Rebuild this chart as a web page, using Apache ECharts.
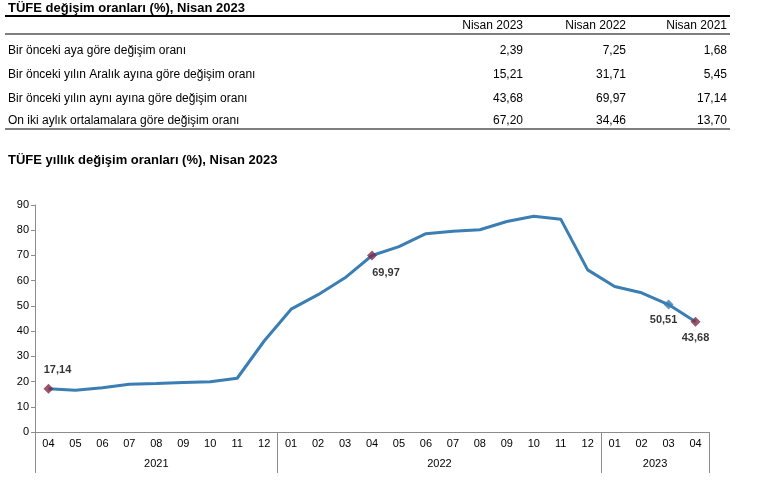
<!DOCTYPE html>
<html><head><meta charset="utf-8">
<script src="https://cdn.jsdelivr.net/npm/echarts@6/dist/echarts.min.js"></script>
<style>html,body{margin:0;padding:0;background:#fff}#c{width:757px;height:498px}</style>
</head><body><div id="c"></div>
<script>
// ---- data ----
const tableTitle = 'TÜFE değişim oranları (%), Nisan 2023';
const chartTitle = 'TÜFE yıllık değişim oranları (%), Nisan 2023';
const tableColumns = ['Nisan 2023', 'Nisan 2022', 'Nisan 2021'];
const tableRows = [
  'Bir önceki aya göre değişim oranı',
  'Bir önceki yılın Aralık ayına göre değişim oranı',
  'Bir önceki yılın aynı ayına göre değişim oranı',
  'On iki aylık ortalamalara göre değişim oranı'
];
const colNisan2023 = ['2,39', '15,21', '43,68', '67,20'];
const colNisan2022 = ['7,25', '31,71', '69,97', '34,46'];
const colNisan2021 = ['1,68', '5,45', '17,14', '13,70'];

const months = ['04','05','06','07','08','09','10','11','12',
                '01','02','03','04','05','06','07','08','09','10','11','12',
                '01','02','03','04'];
const years = ['2021', '2022', '2023'];
const monthsPerYear = [9, 12, 4];
const annualChange = [17.14, 16.59, 17.53, 18.95, 19.25, 19.58, 19.89, 21.31, 36.08,
                      48.69, 54.44, 61.14, 69.97, 73.50, 78.62, 79.60, 80.21, 83.45, 85.51, 84.39, 64.27,
                      57.68, 55.18, 50.51, 43.68];
const labelledPoints = [0, 12, 23, 24];

// ---- styles ----
const FONT = "'Liberation Sans', Arial, sans-serif";
const LINE_COLOR = '#3A7EB4';
const MARK_COLOR = '#7E2B46';
const AXIS_COLOR = '#8c8c8c';
const pointStyles = {
  0:  { color: MARK_COLOR, offset: [9, -19] },
  12: { color: MARK_COLOR, offset: [14, 17] },
  23: { color: LINE_COLOR, offset: [-5, 15] },
  24: { color: MARK_COLOR, offset: [0, 16] }
};

// ---- table graphics ----
const graphics = [];
const tableLeft = 5, tableRight = 730;
graphics.push({ type: 'text', left: 8, top: 2, style: { text: tableTitle, font: 'bold 13px ' + FONT, fill: '#000' } });
graphics.push({ type: 'line', shape: { x1: tableLeft, y1: 16, x2: tableRight, y2: 16 }, style: { stroke: '#000', lineWidth: 2 } });
const colRight = [523, 626, 727];
tableColumns.forEach((c, i) => graphics.push({ type: 'text', x: colRight[i], y: 26,
  style: { text: c, font: '12px ' + FONT, fill: '#000', textAlign: 'right', textVerticalAlign: 'middle' } }));
graphics.push({ type: 'line', shape: { x1: tableLeft, y1: 34, x2: tableRight, y2: 34 }, style: { stroke: '#000', lineWidth: 1.2 } });
const rowY = [50.5, 75, 99, 121];
const cols = [colNisan2023, colNisan2022, colNisan2021];
tableRows.forEach((r, j) => {
  graphics.push({ type: 'text', x: 8, y: rowY[j], style: { text: r, font: '12px ' + FONT, fill: '#000', textVerticalAlign: 'middle' } });
  cols.forEach((col, i) => graphics.push({ type: 'text', x: colRight[i], y: rowY[j],
    style: { text: col[j], font: '12px ' + FONT, fill: '#000', textAlign: 'right', textVerticalAlign: 'middle' } }));
});
graphics.push({ type: 'line', shape: { x1: tableLeft, y1: 129, x2: tableRight, y2: 129 }, style: { stroke: '#000', lineWidth: 1.2 } });
graphics.push({ type: 'text', x: 8, y: 160, style: { text: chartTitle, font: 'bold 13px ' + FONT, fill: '#000', textVerticalAlign: 'middle' } });

// ---- year axis helpers ----
const yearBounds = [0];
monthsPerYear.forEach(n => yearBounds.push(yearBounds[yearBounds.length - 1] + n));
const yearMids = years.map((y, i) => (yearBounds[i] + yearBounds[i + 1]) / 2);

const markerData = labelledPoints.map(i => ({
  value: [i, annualChange[i]],
  itemStyle: { color: pointStyles[i].color },
  label: { offset: pointStyles[i].offset }
}));

const chart = echarts.init(document.getElementById('c'), null, { renderer: 'canvas' });
chart.setOption({
  animation: false,
  textStyle: { fontFamily: FONT },
  graphic: graphics,
  grid: { left: 35, right: 48, top: 205, bottom: 66, containLabel: false },
  xAxis: [{
    type: 'category', data: months, boundaryGap: true,
    axisLine: { lineStyle: { color: AXIS_COLOR, width: 1 } },
    axisTick: { interval: 0, length: 20, lineStyle: { color: AXIS_COLOR } },
    axisLabel: { interval: 0, margin: 6, fontSize: 11, color: '#000', fontFamily: FONT }
  }, {
    type: 'value', position: 'bottom', min: 0, max: months.length,
    axisLine: { show: false }, splitLine: { show: false },
    axisTick: { show: true, customValues: yearBounds, length: 41, lineStyle: { color: AXIS_COLOR } },
    axisLabel: { customValues: yearMids, margin: 26, fontSize: 11, color: '#000', fontFamily: FONT,
      formatter: v => years[yearMids.indexOf(v)] || '' }
  }],
  yAxis: {
    type: 'value', min: 0, max: 90, interval: 10,
    axisLine: { show: true, lineStyle: { color: AXIS_COLOR } },
    axisTick: { show: true, length: 4, lineStyle: { color: AXIS_COLOR } },
    splitLine: { show: false },
    axisLabel: { margin: 6, fontSize: 11, color: '#000', fontFamily: FONT }
  },
  series: [{
    type: 'line', data: annualChange, showSymbol: false, symbol: 'none',
    lineStyle: { color: LINE_COLOR, width: 3 }, z: 2
  }, {
    type: 'scatter', data: markerData, symbol: 'diamond', symbolSize: 10, z: 3,
    label: { show: true, position: 'inside', fontSize: 11, fontWeight: 'bold', color: '#000', fontFamily: FONT,
      formatter: p => p.value[1].toFixed(2).replace('.', ',') }
  }]
});
</script></body></html>
